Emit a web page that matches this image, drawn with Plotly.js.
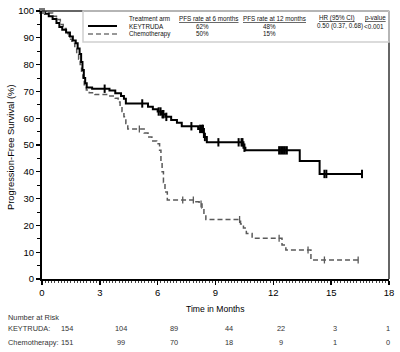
<!DOCTYPE html>
<html>
<head>
<meta charset="utf-8">
<script src="https://cdn.plot.ly/plotly-3.0.1.min.js"></script>
<style>html,body{margin:0;padding:0;background:#fff;}#chart{width:400px;height:352px;}</style>
</head>
<body>
<div id="chart"></div>
<script>
// ---- data ----
const keyTimes = [0, 0.15, 0.35, 0.55, 0.75, 0.9, 1.05, 1.25, 1.45, 1.6, 1.75, 1.85, 1.95, 2.03, 2.1, 2.17, 2.24, 2.32, 2.6, 3.5, 3.8, 4.1, 4.25, 4.35, 5.5, 5.75, 6.0, 6.2, 6.4, 6.7, 7.0, 7.25, 8.1, 8.4, 8.55, 10.45, 10.55, 13.37, 14.4, 16.6];
const keySurv  = [100, 99, 98, 97, 95.5, 94, 93, 92, 90.5, 89, 88, 86, 84, 81, 78, 75, 73, 71.5, 71, 70.3, 69.3, 68.3, 67.3, 65.5, 64.3, 63.3, 62.5, 61.5, 60.5, 59.3, 58.3, 57, 56, 53, 51, 49, 48, 44, 39.2, 39.2];
const keyCensor = [3.25, 5.2, 6.05, 6.15, 6.25, 6.3, 6.45, 7.75, 8.2, 8.3, 8.35, 8.45, 9.15, 10.2, 10.35, 10.4, 10.5, 12.3, 12.4, 12.5, 12.6, 12.7, 14.65, 14.75, 16.6];

const chemoTimes = [0, 0.3, 0.55, 0.75, 0.95, 1.1, 1.25, 1.4, 1.55, 1.7, 1.8, 1.9, 1.98, 2.05, 2.12, 2.19, 2.3, 2.45, 2.75, 3.4, 3.8, 3.95, 4.05, 4.15, 4.25, 4.35, 4.45, 5.3, 5.5, 5.7, 5.95, 6.1, 6.17, 6.23, 6.3, 6.38, 6.5, 7.9, 8.15, 8.3, 8.4, 8.5, 10.3, 10.45, 10.6, 10.9, 12.45, 12.65, 13.95, 16.4];
const chemoSurv  = [100, 99.3, 98, 96.8, 95, 93.5, 91.5, 89.5, 88, 86, 84, 82, 80, 77.5, 75, 72.5, 70.5, 69.5, 68.8, 68.3, 67.4, 66, 64.5, 62.5, 60.5, 58, 56, 54.5, 53, 51.5, 50.5, 48, 44, 40, 36, 32.5, 29.5, 28.8, 28, 26.5, 24.5, 22.2, 20.5, 19, 17, 15.2, 12.7, 10.8, 7.1, 7.1];
const chemoCensor = [5.05, 7.3, 7.85, 8.25, 10.25, 12.3, 13.8, 14.65, 16.4];

const riskTimes = [0, 3, 6, 9, 12, 15, 18];
const riskKey   = [154, 104, 89, 44, 22, 3, 1];
const riskChemo = [151, 99, 70, 18, 9, 1, 0];

const seriesNames = ['KEYTRUDA', 'Chemotherapy'];
const pfs6  = ['62%', '50%'];
const pfs12 = ['48%', '15%'];
const hrText = '0.50 (0.37, 0.68)';
const pText = '<0.001';

// ---- helpers ----
function stepAt(t, times, surv) {
  let v = surv[0];
  for (let i = 0; i < times.length; i++) { if (times[i] <= t) v = surv[i]; }
  return v;
}
const FONT = 'Liberation Sans, Arial, sans-serif';
const L = 42, R = 389, T = 11, B = 279;
const px = p => (p - L) / (R - L);
const py = p => (B - p) / (B - T);

const traces = [
  {x: chemoTimes, y: chemoSurv, mode: 'lines', line: {shape: 'hv', color: '#5a5a5a', width: 1.5, dash: '5px,3px'}, hoverinfo: 'skip'},
  {x: keyTimes, y: keySurv, mode: 'lines', line: {shape: 'hv', color: '#000', width: 2}, hoverinfo: 'skip'},
  {x: chemoCensor, y: chemoCensor.map(t => stepAt(t, chemoTimes, chemoSurv)), mode: 'markers',
   marker: {symbol: 'line-ns-open', size: 5, color: '#5a5a5a', line: {color: '#5a5a5a', width: 1.3}}, hoverinfo: 'skip'},
  {x: keyCensor, y: keyCensor.map(t => stepAt(t, keyTimes, keySurv)), mode: 'markers',
   marker: {symbol: 'line-ns-open', size: 6, color: '#000', line: {color: '#000', width: 2}}, hoverinfo: 'skip'},
  {x: [0], y: [100], mode: 'markers', marker: {symbol: 'square', size: 6, color: '#777'}, cliponaxis: false, hoverinfo: 'skip'}
];

const ann = [];
const tf = {family: FONT, size: 6.3, color: '#111'};
function add(text, x, y, anchor, font) {
  ann.push({text, xref: 'paper', yref: 'paper', x: px(x), y: py(y), xanchor: anchor || 'left', yanchor: 'middle', showarrow: false, font: font || tf});
}
add('Treatment arm', 127, 18);
add(seriesNames[0], 127, 26);
add(seriesNames[1], 127, 34);
add('<u>PFS rate at 6 months</u>', 177, 18);
add('<u>PFS rate at 12 months</u>', 241, 18);
add('<u>HR (95% CI)</u>', 317, 18);
add('<u>p-value</u>', 363, 18);
add(pfs6[0], 202, 26, 'center');
add(pfs6[1], 202, 34, 'center');
add(pfs12[0], 269, 26, 'center');
add(pfs12[1], 269, 34, 'center');
add(hrText, 315, 26);
add(pText.replace('<', '&lt;'), 362, 26);

// axis titles
ann.push({text: 'Progression-Free Survival (%)', xref: 'paper', yref: 'paper', x: px(10), y: py(147), textangle: -90,
  xanchor: 'center', yanchor: 'middle', showarrow: false, font: {family: FONT, size: 9.4, color: '#000'}});
add('Time in Months', 215, 309, 'center', {family: FONT, size: 8.6, color: '#000'});

// number at risk
const rf = {family: FONT, size: 7.4, color: '#333'};
add('Number at Risk', 6, 317, 'left', rf);
add(seriesNames[0] + ':', 6, 328, 'left', rf);
add(seriesNames[1] + ':', 6, 342, 'left', rf);
const colPx = [67, 121, 174, 229, 281, 335, 388];
riskTimes.forEach((t, i) => {
  add(String(riskKey[i]), colPx[i], 328, 'center', rf);
  add(String(riskChemo[i]), colPx[i], 342, 'center', rf);
});

const shapes = [
  {type: 'line', xref: 'paper', yref: 'paper', x0: 0, x1: 1, y0: 1, y1: 1, line: {color: '#333', width: 1.5}},
  {type: 'line', xref: 'paper', yref: 'paper', x0: 1, x1: 1, y0: 0, y1: 1, line: {color: '#333', width: 1.5}},
  {type: 'rect', xref: 'paper', yref: 'paper', x0: px(83), x1: 1, y0: py(42), y1: 1, line: {color: '#d0d0d0', width: 1.5}},
  {type: 'line', xref: 'paper', yref: 'paper', x0: px(88), x1: px(117), y0: py(26), y1: py(26), line: {color: '#000', width: 2}},
  {type: 'line', xref: 'paper', yref: 'paper', x0: px(88), x1: px(117), y0: py(34), y1: py(34), line: {color: '#777', width: 1.5, dash: '5px,3px'}}
];

const layout = {
  width: 400, height: 352,
  margin: {l: L, r: 400 - R, t: T, b: 352 - B},
  paper_bgcolor: '#fff', plot_bgcolor: '#fff',
  showlegend: false,
  font: {family: FONT, size: 9, color: '#000'},
  xaxis: {range: [0, 18], tickvals: riskTimes, ticks: 'outside', ticklen: 4, tickwidth: 1.5, tickcolor: '#000',
    showline: true, linecolor: '#000', linewidth: 2, showgrid: false, zeroline: false,
    tickfont: {family: FONT, size: 9.5, color: '#000'},
    minor: {dtick: 1/6, ticks: 'outside', ticklen: 2, tickwidth: 1, tickcolor: '#444', showgrid: false}},
  yaxis: {range: [0, 100], dtick: 10, ticks: 'outside', ticklen: 4, tickwidth: 1.2, tickcolor: '#000',
    showline: true, linecolor: '#000', linewidth: 2, showgrid: false, zeroline: false,
    tickfont: {family: FONT, size: 9.5, color: '#000'},
    minor: {dtick: 5, ticks: 'outside', ticklen: 3, tickwidth: 1, tickcolor: '#000', showgrid: false}},
  annotations: ann,
  shapes: shapes
};

Plotly.newPlot('chart', traces, layout, {staticPlot: true, displayModeBar: false});
</script>
</body>
</html>
